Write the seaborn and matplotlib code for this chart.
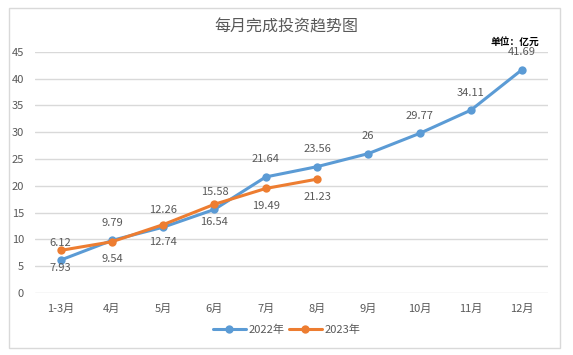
import matplotlib
matplotlib.use("Agg")
import matplotlib.pyplot as plt
import pandas as pd
import seaborn as sns
from matplotlib.patches import Rectangle

# Data (unit: 亿元)
months = ["1-3月", "4月", "5月", "6月", "7月", "8月", "9月", "10月", "11月", "12月"]
values_2022 = [6.12, 9.79, 12.26, 15.58, 21.64, 23.56, 26, 29.77, 34.11, 41.69]
values_2023 = [7.93, 9.54, 12.74, 16.54, 19.49, 21.23]
labels_2022 = ["6.12", "9.79", "12.26", "15.58", "21.64", "23.56", "26", "29.77", "34.11", "41.69"]
labels_2023 = ["7.93", "9.54", "12.74", "16.54", "19.49", "21.23"]

BLUE = "#5B9BD5"
ORANGE = "#ED7D31"
TEXT = "#595959"

df = pd.concat([
    pd.DataFrame({"month": months, "value": values_2022, "year": "2022年"}),
    pd.DataFrame({"month": months[:len(values_2023)], "value": values_2023, "year": "2023年"}),
])

sns.set_theme(style="white")
plt.rcParams["font.family"] = ["Noto Sans CJK SC", "DejaVu Sans"]

fig = plt.figure(figsize=(5.73, 3.55), dpi=100)
ax = fig.add_axes([0.061, 0.175, 0.895, 0.679])

sns.lineplot(data=df, x="month", y="value", hue="year", sort=False,
             palette={"2022年": BLUE, "2023年": ORANGE},
             marker="o", markersize=6, markeredgewidth=0, linewidth=2.2, ax=ax)

# data labels: 2022 above, 2023 below
for i, (v, t) in enumerate(zip(values_2022, labels_2022)):
    ax.annotate(t, (i, v), xytext=(0, 9), textcoords="offset points",
                ha="center", va="bottom", fontsize=8, color=TEXT)
for i, (v, t) in enumerate(zip(values_2023, labels_2023)):
    ax.annotate(t, (i, v), xytext=(0, -9), textcoords="offset points",
                ha="center", va="top", fontsize=8, color=TEXT)

ax.set_xlim(-0.5, len(months) - 0.5)
ax.set_ylim(0, 45)
ax.set_yticks(range(0, 46, 5))
ax.grid(axis="y", color="#D9D9D9", linewidth=1)
ax.set_axisbelow(True)
for s in ax.spines.values():
    s.set_visible(False)
ax.tick_params(axis="both", length=0, labelsize=8, colors=TEXT, pad=8)
ax.set_xlabel("")
ax.set_ylabel("")

ax.legend(loc="center", bbox_to_anchor=(0.5, 0.07), bbox_transform=fig.transFigure,
          ncol=2, frameon=False, fontsize=8, labelcolor=TEXT,
          handlelength=3, columnspacing=0.4, handletextpad=0.2)

fig.text(0.5, 0.924, "每月完成投资趋势图", ha="center", va="center",
         fontsize=11.5, color=TEXT)
fig.text(0.899, 0.882, "单位：亿元", ha="center", va="center",
         fontsize=7, fontweight="bold", color="black")

fig.patches.append(Rectangle((0.016, 0.02), 0.962, 0.958, transform=fig.transFigure,
                             fill=False, edgecolor="#D9D9D9", linewidth=1))

fig.savefig("out.png", dpi=100, facecolor="white")
